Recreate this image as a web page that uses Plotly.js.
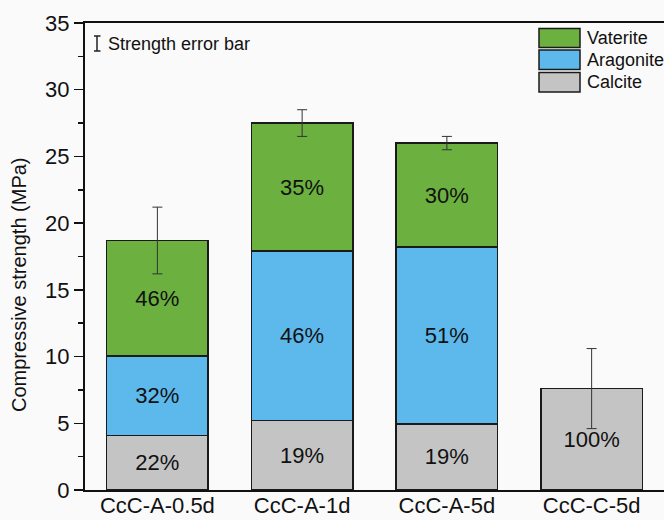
<!DOCTYPE html>
<html>
<head>
<meta charset="utf-8">
<script src="https://cdn.plot.ly/plotly-3.0.1.min.js"></script>
<style>html,body{margin:0;padding:0;background:#fafafa;}#chart{width:664px;height:520px;}</style>
</head>
<body>
<div id="chart"></div>
<script>
// ---- data ----
const categories = ['CcC-A-0.5d', 'CcC-A-1d', 'CcC-A-5d', 'CcC-C-5d'];
const calcite   = [4.1, 5.2, 4.95, 7.6];
const aragonite = [5.95, 12.7, 13.25, null];
const vaterite  = [8.65, 9.6, 7.8, null];
const calcitePct   = ['22%', '19%', '19%', '100%'];
const aragonitePct = ['32%', '46%', '51%', ''];
const vateritePct  = ['46%', '35%', '30%', ''];
const strengthError = [2.5, 1.0, 0.5, 3.0];
const yTicks = [0, 5, 10, 15, 20, 25, 30, 35];
const legendNames = ['Vaterite', 'Aragonite', 'Calcite'];

// ---- styling ----
const FONT = 'Liberation Sans, Arial, sans-serif';
const colors = {Vaterite: '#6cb040', Aragonite: '#5db8ec', Calcite: '#c4c4c4'};
const outline = {color: '#1a1a1a', width: 1.5};
const W = 664, H = 520, L = 85, R = 0, T = 23, B = 30;
const pw = W - L - R, ph = H - T - B;
const px = x => (x - L) / pw;
const py = y => (H - B - y) / ph;

const totals = categories.map((_, i) => [calcite[i], aragonite[i], vaterite[i]].reduce((s, v) => s + (v || 0), 0));

function barTrace(name, vals, labels) {
  return {
    type: 'bar', name: name, x: categories, y: vals,
    text: labels, textposition: 'inside', insidetextanchor: 'middle',
    textfont: {family: FONT, size: 22, color: '#111'},
    constraintext: 'none', cliponaxis: false,
    marker: {color: colors[name], line: outline},
    hoverinfo: 'skip', showlegend: false
  };
}

const data = [
  barTrace('Calcite', calcite, calcitePct),
  barTrace('Aragonite', aragonite, aragonitePct),
  barTrace('Vaterite', vaterite, vateritePct),
  {
    type: 'scatter', mode: 'markers', x: categories, y: totals,
    marker: {size: 1, opacity: 0},
    error_y: {type: 'data', array: strengthError, visible: true, color: '#333', thickness: 1, width: 5},
    hoverinfo: 'skip', showlegend: false, cliponaxis: false
  }
];

const shapes = [];
const annotations = [];
// manual legend boxes
const legendRows = [[28.5, 47.5], [50, 69.5], [72.5, 92]];
legendNames.forEach((n, i) => {
  const [y0, y1] = legendRows[i];
  shapes.push({type: 'rect', xref: 'paper', yref: 'paper', x0: px(539), x1: px(580), y0: py(y1), y1: py(y0),
    fillcolor: colors[n], line: {color: '#1a1a1a', width: 1.5}});
  annotations.push({xref: 'paper', yref: 'paper', x: px(585), y: py((y0 + y1) / 2), xanchor: 'left', yanchor: 'middle',
    text: n, showarrow: false, font: {family: FONT, size: 18, color: '#111'}});
});
// error bar key
shapes.push({type: 'line', xref: 'paper', yref: 'paper', x0: px(97), x1: px(97), y0: py(36), y1: py(51), line: {color: '#222', width: 1.5}});
shapes.push({type: 'line', xref: 'paper', yref: 'paper', x0: px(94), x1: px(100.5), y0: py(36), y1: py(36), line: {color: '#222', width: 1.5}});
shapes.push({type: 'line', xref: 'paper', yref: 'paper', x0: px(94), x1: px(100.5), y0: py(51), y1: py(51), line: {color: '#222', width: 1.5}});
annotations.push({xref: 'paper', yref: 'paper', x: px(106), y: py(43.5), xanchor: 'left', yanchor: 'middle',
  text: 'Strength error bar', showarrow: false, font: {family: FONT, size: 18, color: '#111'}});
// y-axis title
annotations.push({xref: 'paper', yref: 'paper', x: px(19), y: py(285), xanchor: 'center', yanchor: 'middle',
  text: 'Compressive strength (MPa)', textangle: -90, showarrow: false, font: {family: FONT, size: 20, color: '#111'}});

const layout = {
  width: W, height: H,
  margin: {l: L, r: R, t: T, b: B, pad: 0},
  paper_bgcolor: '#fafafa', plot_bgcolor: '#fafafa',
  font: {family: FONT, color: '#111'},
  barmode: 'stack', bargap: 0.30,
  showlegend: false,
  xaxis: {
    type: 'category', range: [-0.5, 3.5], showgrid: false, zeroline: false,
    showline: true, linecolor: '#111', linewidth: 2, mirror: true,
    ticks: '', ticklabelstandoff: -5,
    tickfont: {family: FONT, size: 22, color: '#111'}, automargin: false
  },
  yaxis: {
    range: [0, 35], tickvals: yTicks, ticktext: yTicks.map(String),
    showgrid: false, zeroline: false,
    showline: true, linecolor: '#111', linewidth: 2, mirror: false,
    ticks: 'outside', ticklen: 9, tickwidth: 1.5, tickcolor: '#111',
    minor: {dtick: 2.5, tick0: 0, ticks: 'outside', ticklen: 5, tickwidth: 1.5, tickcolor: '#111', showgrid: false},
    tickfont: {family: FONT, size: 22, color: '#111'}, automargin: false
  },
  shapes: shapes,
  annotations: annotations
};

Plotly.newPlot('chart', data, layout, {staticPlot: true, displayModeBar: false});
</script>
</body>
</html>
